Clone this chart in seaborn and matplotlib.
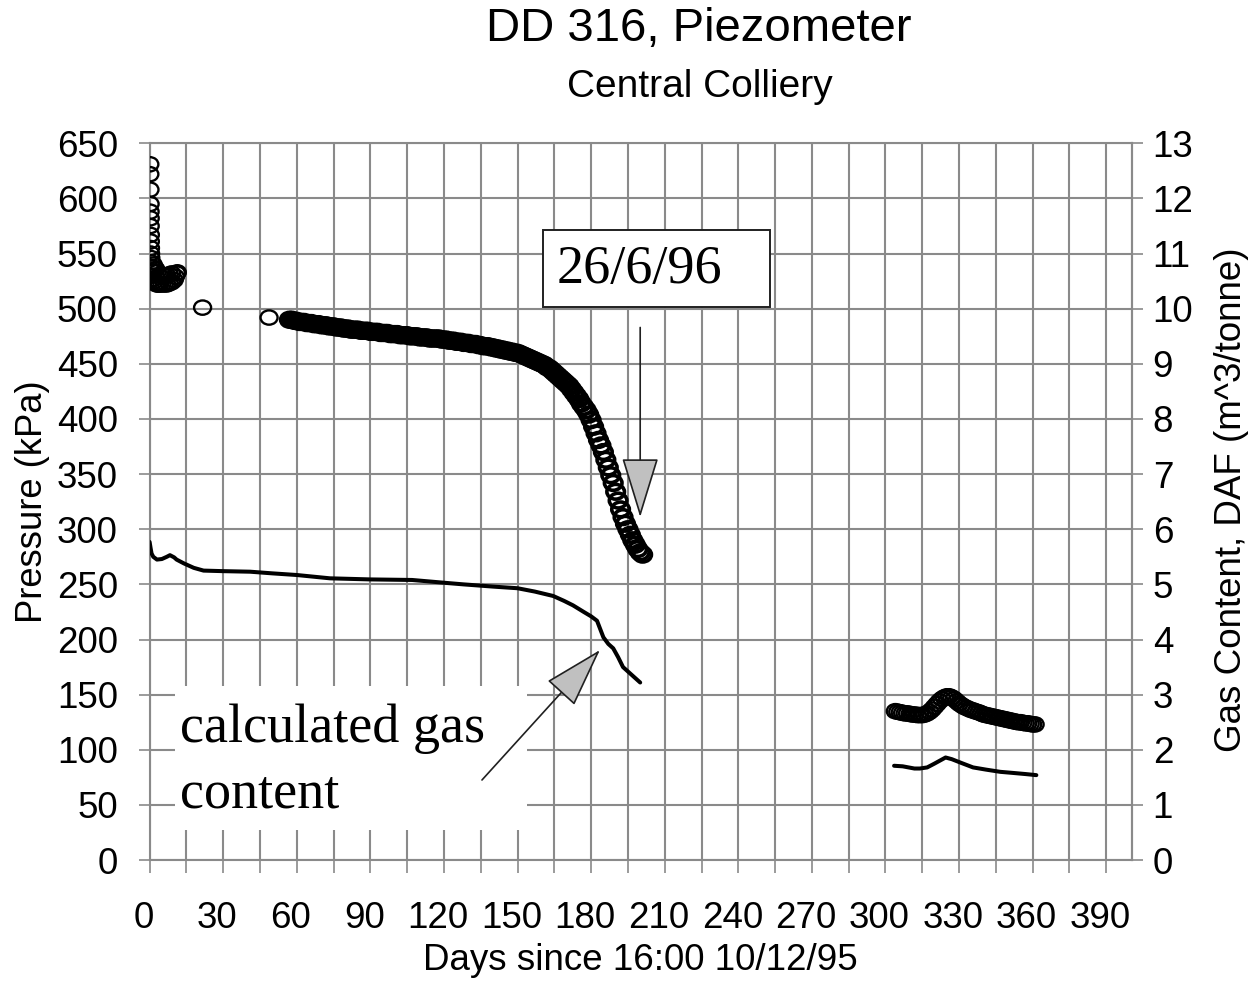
import numpy as np
import pandas as pd
import matplotlib
matplotlib.use('Agg')
import matplotlib.pyplot as plt
import seaborn as sns
from matplotlib.path import Path
from matplotlib.transforms import Affine2D, ScaledTranslation
from matplotlib.patches import Rectangle
from matplotlib.ticker import MultipleLocator

sns.set_theme(style='white')
plt.rcParams['font.family'] = ['Liberation Sans', 'DejaVu Sans']
plt.rcParams['text.color'] = 'black'
plt.rcParams['axes.labelcolor'] = 'black'

# piezometer pressure (kPa) -- start of record
start_days = [0.1, 0.1, 0.15, 0.2, 0.2, 0.25, 0.25, 0.3, 0.3, 0.35, 0.4,
              0.5, 0.6, 0.8, 1.0, 1.3, 1.6, 2.0, 2.5, 3.0, 3.5, 4, 5, 6, 7, 8, 9, 10, 10.5, 11, 11.3,
              1.5, 2.5, 3, 4, 5, 6, 7, 8, 9]
start_kpa = [631, 622, 608, 595, 588, 582, 575, 567, 561, 555, 550,
             546, 542, 538, 534, 530, 527, 525, 523, 522, 522, 522, 522, 522, 522, 523, 524, 526, 529, 532, 533,
             540, 536, 533, 530, 531, 530, 530, 531, 532]

# isolated readings
spot_days = [21.6, 48.7]
spot_kpa = [501, 492]

# continuous logging, day 57 - 201
band_days = list(range(57, 202))
band_kpa = [490, 490, 489, 489, 488, 488, 488, 487, 487, 487,
            486, 486, 486, 485, 485, 485, 484, 484, 484, 483,
            483, 483, 482, 482, 482, 481, 481, 481, 481, 480,
            480, 480, 480, 479, 479, 479, 479, 478, 478, 478,
            478, 477, 477, 477, 477, 476, 476, 476, 476, 475,
            475, 475, 475, 474, 474, 474, 474, 473, 473, 473,
            473, 473, 472, 472, 472, 471, 471, 471, 470, 470,
            470, 469, 469, 469, 468, 468, 468, 467, 467, 466,
            466, 466, 465, 465, 464, 464, 463, 463, 462, 462,
            461, 461, 460, 460, 459, 458, 457, 456, 455, 454,
            453, 452, 451, 450, 449, 447, 446, 444, 442, 440,
            438, 436, 434, 432, 430, 427, 424, 421, 418, 414,
            411, 408, 404, 399, 393, 387, 381, 376, 370, 363,
            356, 349, 342, 334, 326, 318, 311, 305, 300, 295,
            290, 286, 282, 279, 277]

# second logging period, day 304 - 361
late_days = list(range(304, 362))
late_kpa = [135, 134.5, 134, 133.5, 133, 133, 132.5, 132, 132, 131.5,
            131.5, 131.5, 132, 133, 134.5, 136.5, 139, 141.5, 144, 146,
            147.5, 148.5, 148.5, 147.5, 146, 144, 142, 140.5, 139, 138,
            137, 136, 135.5, 134.5, 134, 133, 132, 131.5, 131, 130.5,
            130, 129.5, 129, 128.5, 128, 127.5, 127, 126.5, 126, 125.5,
            125, 125, 124.5, 124, 124, 123.5, 123, 123]

# calculated gas content (m^3/tonne)
gas_days_1 = [0.0, 0.4, 0.8, 1.5, 3, 5, 7, 8.3, 10, 11, 14, 18, 22, 30, 41, 50, 60, 73.5, 90, 107,
              120, 128, 140, 150, 157, 164.5, 169, 172.6, 177, 180, 182.4, 185, 187, 189, 191, 193, 196, 198, 200]
gas_1 = [5.77, 5.66, 5.56, 5.5, 5.45, 5.46, 5.5, 5.53, 5.49, 5.45, 5.38, 5.3, 5.25, 5.24, 5.23, 5.2, 5.17, 5.11, 5.09, 5.08,
         5.03, 5.0, 4.96, 4.93, 4.87, 4.79, 4.7, 4.62, 4.5, 4.42, 4.34, 4.04, 3.92, 3.84, 3.68, 3.5, 3.38, 3.3, 3.22]
gas_days_2 = [303.5, 307, 311.8, 314, 317, 320, 324.5, 327, 331, 335.7, 341, 346.8, 352, 357, 361.5]
gas_2 = [1.71, 1.70, 1.66, 1.66, 1.68, 1.75, 1.86, 1.83, 1.76, 1.68, 1.64, 1.60, 1.58, 1.56, 1.54]

sparse = pd.DataFrame({'day': start_days + spot_days + late_days,
                       'kpa': start_kpa + spot_kpa + late_kpa})
dense = pd.DataFrame({'day': band_days, 'kpa': band_kpa})

grid_col = '#8a8a8a'
fig = plt.figure(figsize=(12.55, 9.81), dpi=100)
ax = fig.add_axes([0.1192, 0.1233, 0.7828, 0.7306])
ax2 = ax.twinx()

ring = Path.unit_circle().transformed(Affine2D().scale(1.0, 0.84))
sns.scatterplot(data=sparse, x='day', y='kpa', ax=ax, marker=ring, s=150,
                color='black', facecolor='none', edgecolor='black', linewidth=1.7, zorder=3)
sns.scatterplot(data=dense, x='day', y='kpa', ax=ax, marker=ring, s=160,
                color='black', facecolor='none', edgecolor='black', linewidth=2.6, zorder=3)

sns.lineplot(x=gas_days_1, y=gas_1, ax=ax2, color='black', lw=2.9, sort=False, estimator=None)
sns.lineplot(x=gas_days_2, y=gas_2, ax=ax2, color='black', lw=2.9, sort=False, estimator=None)

ax.set_xlim(0, 400.5)
ax.set_ylim(0, 650)
ax2.set_ylim(0, 13)
ax.xaxis.set_major_locator(MultipleLocator(30))
ax.xaxis.set_minor_locator(MultipleLocator(15))
ax.yaxis.set_major_locator(MultipleLocator(50))
ax2.yaxis.set_major_locator(MultipleLocator(1))

ax.set_axisbelow(True)
ax.grid(True, which='both', color=grid_col, lw=1.5)
ax2.grid(False)

for sp in ax.spines.values():
    sp.set_color(grid_col)
    sp.set_linewidth(1.5)
for name, sp in ax2.spines.items():
    sp.set_visible(name == 'right')
    sp.set_color(grid_col)
    sp.set_linewidth(1.5)

ax.tick_params(axis='y', direction='inout', length=15.8, width=1.2, color=grid_col, pad=15,
               labelsize=26.5, labelcolor='black', left=True)
ax.tick_params(axis='x', which='both', direction='out', length=9.4, width=1.2, color=grid_col, pad=20,
               labelsize=26.5, labelcolor='black', bottom=True)
ax2.tick_params(axis='y', direction='inout', length=15.8, width=1.2, color=grid_col, pad=7,
                labelsize=26.5, labelcolor='black', right=True)

# Excel draws the day labels a little left of their ticks
shift = ScaledTranslation(-6 / 100, 0, fig.dpi_scale_trans)
for lbl in ax.get_xticklabels():
    lbl.set_transform(lbl.get_transform() + shift)

ax.set_xlabel('Days since 16:00 10/12/95', fontsize=26.5, va='baseline')
ax.xaxis.set_label_coords(0.5, -0.1535)
ax.set_ylabel('Pressure (kPa)', fontsize=26.2, va='center')
ax.yaxis.set_label_coords(-0.1197, 0.5)
ax2.set_ylabel('Gas Content, DAF (m^3/tonne)', fontsize=26.5, va='center', rotation=90)
ax2.yaxis.set_label_coords(1.1013, 0.503)

fig.text(0.557, 1 - 41 / 981, 'DD 316, Piezometer', ha='center', va='baseline', fontsize=34)
fig.text(0.558, 1 - 97 / 981, 'Central Colliery', ha='center', va='baseline', fontsize=28)

serif = ['Liberation Serif', 'DejaVu Serif']
head = '-|>,head_length=39,head_width=12'

# date callout
ax.add_patch(Rectangle((160.4, 501.5), 92.5, 69.9, fc='white', ec='#202020', lw=1.4, zorder=4))
ax.text(166, 523.3, '26/6/96', family=serif, fontsize=39, va='baseline', zorder=5)
ax.annotate('', xy=(200, 311), xytext=(200, 483),
            arrowprops=dict(arrowstyle=head, mutation_scale=1, fc='#c0c0c0', ec='#202020',
                            lw=1.2, shrinkA=0, shrinkB=0), zorder=5)

# gas content callout
ax.add_patch(Rectangle((10.3, 27.2), 143.7, 130.6, fc='white', ec='none', zorder=1))
ax.text(12.4, 107, 'calculated gas', family=serif, fontsize=39, va='baseline', zorder=5)
ax.text(12.4, 48, 'content', family=serif, fontsize=39, va='baseline', zorder=5)
ax.annotate('', xy=(183.6, 190.5), xytext=(135.5, 72.6),
            arrowprops=dict(arrowstyle=head, mutation_scale=1, fc='#c0c0c0', ec='#202020',
                            lw=1.2, shrinkA=0, shrinkB=0), zorder=5)

fig.savefig('out.png', dpi=100)
